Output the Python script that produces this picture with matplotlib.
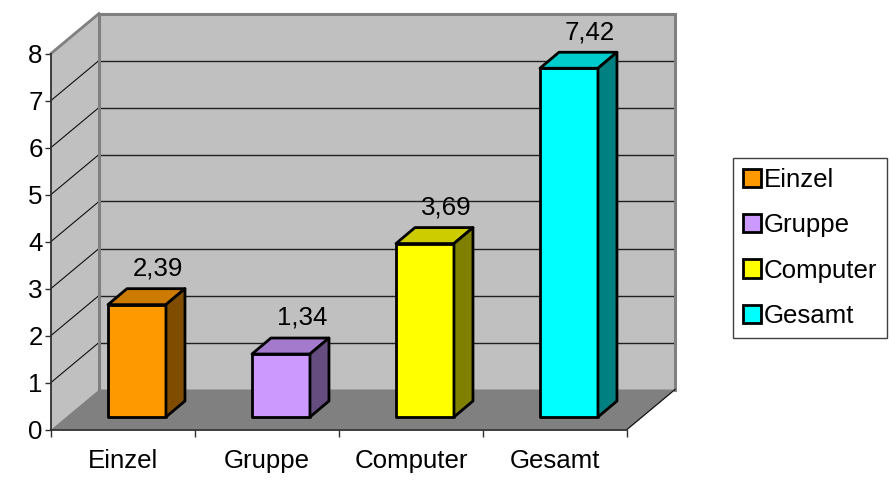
import matplotlib
matplotlib.use("Agg")
import matplotlib.pyplot as plt
from matplotlib.patches import Polygon, Patch
from matplotlib.colors import to_rgb

categories = ["Einzel", "Gruppe", "Computer", "Gesamt"]
values = [2.39, 1.34, 3.69, 7.42]
value_labels = ["2,39", "1,34", "3,69", "7,42"]
colors = ["#FF9900", "#CC99FF", "#FFFF00", "#00FFFF"]
y_ticks = [0, 1, 2, 3, 4, 5, 6, 7, 8]

W, H = 891, 484
FONT = "Liberation Sans"
FS = 18.6

# Oblique projection: data-unit shift of the back wall relative to the front plane
DEPTH_X = 48 / 144
DEPTH_Y = 40 / 47
# Bars sit partway into the floor, with a fixed width and depth
BAR_SHIFT_X = 0.097
BAR_SHIFT_Y = 0.266
BAR_W = 58 / 144
BAR_DX = 19 / 144
BAR_DY = 16 / 47

plt.rcParams["font.family"] = FONT
fig = plt.figure(figsize=(W / 100, H / 100), dpi=100)
ax = fig.add_axes([51 / W, (H - 429.5) / H, 576 / W, 376 / H])
ax.set_xlim(0, 4)
ax.set_ylim(0, 8)
ax.patch.set_visible(False)

WALL = "#C0C0C0"
FLOOR = "#808080"
dx, dy = DEPTH_X, DEPTH_Y

# Side wall, back wall and floor
ax.add_patch(Polygon([(0, 0), (dx, dy), (dx, 8 + dy), (0, 8)], closed=True,
                     fc=WALL, ec="none", clip_on=False, zorder=1))
ax.add_patch(Polygon([(dx, dy), (4 + dx, dy), (4 + dx, 8 + dy), (dx, 8 + dy)], closed=True,
                     fc=WALL, ec="none", clip_on=False, zorder=1))

# Gridlines across the side wall and back wall
for v in y_ticks[1:-1]:
    ax.plot([0, dx], [v, v + dy], color="#101010", lw=0.8, clip_on=False, zorder=2)
    ax.plot([dx, 4 + dx], [v + dy, v + dy], color="#202020", lw=1.0, clip_on=False, zorder=2)

ax.add_patch(Polygon([(0, 0), (4, 0), (4 + dx, dy), (dx, dy)], closed=True,
                     fc=FLOOR, ec="none", clip_on=False, zorder=3))

# Wall outline
ax.plot([dx, dx, 4 + dx, 4 + dx], [dy, 8 + dy, 8 + dy, dy], color=FLOOR, lw=2.2,
        clip_on=False, zorder=2.5, solid_joinstyle="miter")
ax.plot([0, dx], [8, 8 + dy], color=FLOOR, lw=2.0, clip_on=False, zorder=2.5)
ax.plot([4, 4 + dx], [0, dy], color="#101010", lw=0.9, clip_on=False, zorder=3.2)


def shade(color, factor):
    return tuple(c * factor for c in to_rgb(color))


# Bars as three visible faces
for i, (v, c, lab) in enumerate(zip(values, colors, value_labels)):
    x0 = i + 0.5 + BAR_SHIFT_X - BAR_W / 2
    x1 = x0 + BAR_W
    y0 = BAR_SHIFT_Y
    y1 = y0 + v
    faces = [
        ([(x0, y0), (x1, y0), (x1, y1), (x0, y1)], c),
        ([(x0, y1), (x1, y1), (x1 + BAR_DX, y1 + BAR_DY), (x0 + BAR_DX, y1 + BAR_DY)], shade(c, 0.8)),
        ([(x1, y0), (x1 + BAR_DX, y0 + BAR_DY), (x1 + BAR_DX, y1 + BAR_DY), (x1, y1)], shade(c, 0.5)),
    ]
    for pts, fc in faces:
        ax.add_patch(Polygon(pts, closed=True, fc=fc, ec="black", lw=2.0,
                             joinstyle="round", clip_on=False, zorder=5))
    ax.annotate(lab, (i + 0.5 + BAR_SHIFT_X, y1), xytext=(15, 26), textcoords="offset points",
                ha="center", va="center", fontsize=FS, color="black", zorder=6,
                annotation_clip=False)

# Axes, ticks and labels
for side in ("top", "right"):
    ax.spines[side].set_visible(False)
for side in ("left", "bottom"):
    ax.spines[side].set_color("#303030")
    ax.spines[side].set_linewidth(1.3)
    ax.spines[side].set_zorder(4)

ax.set_yticks(y_ticks)
ax.tick_params(axis="y", length=4, width=1, color="#303030", labelsize=FS, pad=2)
ax.set_xticks(range(len(categories) + 1))
ax.set_xticklabels([])
ax.tick_params(axis="x", which="major", length=5, width=1, color="#303030")
ax.set_xticks([i + 0.5 for i in range(len(categories))], minor=True)
ax.set_xticklabels(categories, minor=True, fontsize=FS)
ax.tick_params(axis="x", which="minor", length=0, pad=14)

handles = [Patch(facecolor=c, edgecolor="black", linewidth=2.0, label=n)
           for n, c in zip(categories, colors)]
leg = fig.legend(handles=handles, loc="upper left", bbox_to_anchor=(733 / W, 1 - 158 / H),
                 bbox_transform=fig.transFigure, fontsize=FS, frameon=True, fancybox=False,
                 edgecolor="#404040", framealpha=1, borderaxespad=0, borderpad=0.38,
                 labelspacing=0.83, handlelength=0.72, handleheight=0.72, handletextpad=0.1)
leg.get_frame().set_linewidth(1.0)

fig.savefig("out.png", dpi=100, facecolor="white")
